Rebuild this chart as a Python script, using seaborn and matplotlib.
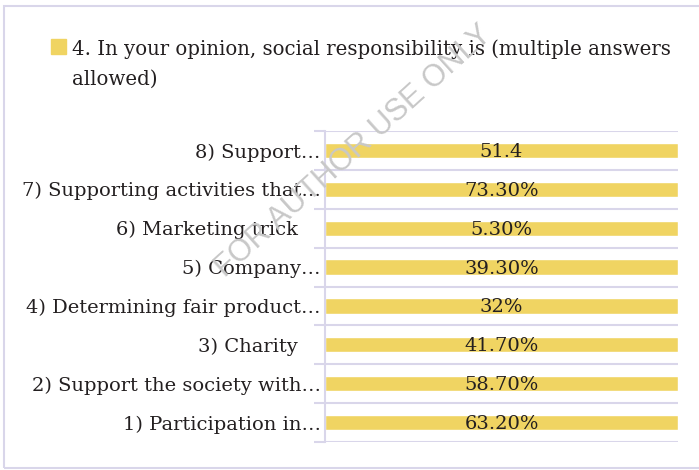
import matplotlib
matplotlib.use("Agg")
import matplotlib.pyplot as plt
from matplotlib.patches import Rectangle
import numpy as np
import pandas as pd
import seaborn as sns

# Survey answers, question 4 (multiple answers allowed)
categories = [
    "1) Participation in\u2026",
    "2) Support the society with\u2026",
    "3) Charity   \u2009",
    "4) Determining fair product\u2026",
    "5) Company\u2026",
    "6) Marketing trick   \u2009",
    "7) Supporting activities that\u2026",
    "8) Support\u2026",
]
values = [63.2, 58.7, 41.7, 32.0, 39.3, 5.3, 73.3, 51.4]
value_formats = ["{:.2f}%", "{:.2f}%", "{:.2f}%", "{:.0f}%",
                 "{:.2f}%", "{:.2f}%", "{:.2f}%", "{:.1f}"]
series_name = "4. In your opinion, social responsibility is (multiple answers\nallowed)"

BAR = "#f0d462"
GRID = "#d9d6ea"
TEXT = "#231f20"
FONT = "DejaVu Serif"
FS = 14

df = pd.DataFrame({"category": categories, "value": values, "fmt": value_formats})
# single-series 100% stacked bars: each bar is its value's share of its own stack
df["share"] = df["value"] / df.groupby("category")["value"].transform("sum")
order = categories[::-1]
df = df.set_index("category").loc[order].reset_index()

sns.set_theme(style="white")
plt.rcParams["font.family"] = [FONT, "Liberation Serif"]

fig = plt.figure(figsize=(6.99, 4.70), dpi=100)
ax = fig.add_axes([325 / 699, 1 - 442 / 470, (678 - 325) / 699, (442 - 131) / 470])

sns.barplot(data=df, x="share", y="category", order=order, orient="h",
            color=BAR, saturation=1, width=0.39, ax=ax)

ax.set_xlim(0, 1)
ax.set_ylim(len(order) - 0.5, -0.5)
ax.set_xlabel("")
ax.set_ylabel("")
ax.set_xticks([])

# category separators with short outward ticks
ax.set_yticks(np.arange(-0.5, len(order), 1.0), minor=True)
ax.tick_params(axis="y", which="minor", length=8, width=1.5, color=GRID, left=True)
ax.tick_params(axis="y", which="major", length=0, pad=3, labelsize=FS, labelcolor=TEXT)
ax.grid(axis="y", which="minor", color=GRID, linewidth=1.5)
ax.grid(axis="y", which="major", visible=False)
ax.set_axisbelow(True)
for side in ["top", "right", "bottom"]:
    ax.spines[side].set_visible(False)
ax.spines["left"].set_color(GRID)
ax.spines["left"].set_linewidth(1.5)

# value labels centred on the bars
for i, row in df.iterrows():
    ax.text(row["share"] / 2, i + 0.04, row["fmt"].format(row["value"]),
            ha="center", va="center", fontsize=FS, color=TEXT, family=FONT)

# series key above the plot
fig.patches.append(Rectangle((51 / 699, 1 - 54 / 470), 15 / 699, 15 / 470,
                             transform=fig.transFigure, color=BAR, zorder=3))
for k, line in enumerate(series_name.split("\n")):
    fig.text(72 / 699, 1 - (55 + 30 * k) / 470, line, ha="left", va="baseline",
             fontsize=14.2, color=TEXT, family=FONT)

# frame around the chart
fig.patches.append(Rectangle((4 / 699, 1 - 468 / 470), 700 / 699, 462 / 470,
                             transform=fig.transFigure, fill=False,
                             edgecolor=GRID, linewidth=1.5, zorder=0))

# watermark
fig.text(354 / 699, 1 - 151 / 470, "FOR AUTHOR USE ONLY", ha="center", va="center",
         rotation=42, fontsize=22, color="#c8c8c8", family="Liberation Sans",
         zorder=10)

fig.savefig("out.png", dpi=100, facecolor="white")
